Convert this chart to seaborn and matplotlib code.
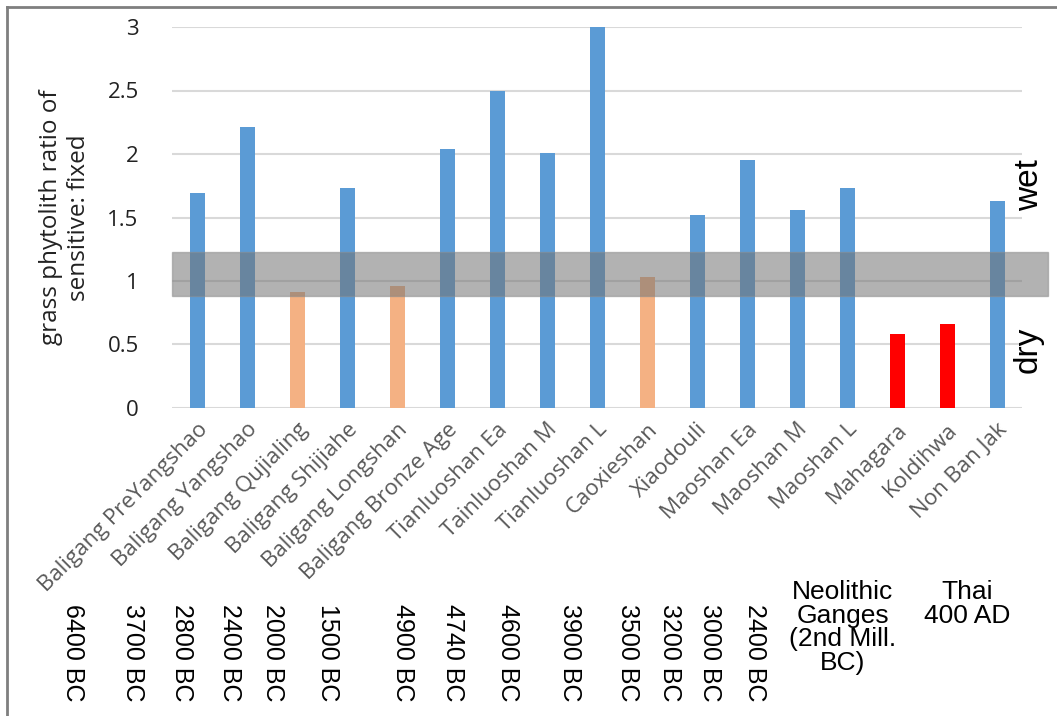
import matplotlib
matplotlib.use("Agg")
import matplotlib.pyplot as plt
import pandas as pd
import seaborn as sns
from matplotlib.lines import Line2D

# sites and phytolith ratios
sites = ["Baligang PreYangshao", "Baligang Yangshao", "Baligang Qujialing",
         "Baligang Shijiahe", "Baligang Longshan", "Baligang Bronze Age",
         "Tianluoshan Ea", "Tainluoshan M", "Tianluoshan L", "Caoxieshan",
         "Xiaodouli", "Maoshan Ea", "Maoshan M", "Maoshan L", "Mahagara",
         "Koldihwa", "Non Ban Jak"]
ratios = [1.69, 2.21, 0.91, 1.73, 0.96, 2.04, 2.50, 2.01, 3.00, 1.03,
          1.52, 1.95, 1.56, 1.73, 0.58, 0.66, 1.63]
groups = ["china", "china", "china_low", "china", "china_low", "china",
          "china", "china", "china", "china_low", "china", "china", "china",
          "china", "india", "india", "thai"]
dates = ["6400 BC", "3700 BC", "2800 BC", "2400 BC", "2000 BC", "1500 BC",
         "4900 BC", "4740 BC", "4600 BC", "3900 BC", "3500 BC", "3200 BC",
         "3000 BC", "2400 BC"]
group_notes = ["Neolithic\nGanges\n(2nd Mill.\nBC)", "Thai\n400 AD"]
band = (0.88, 1.23)

palette = {"china": "#5B9BD5", "china_low": "#F4B183",
           "india": "#FF0000", "thai": "#5B9BD5"}

df = pd.DataFrame({"site": sites, "ratio": ratios, "group": groups})

W, H = 1057, 716
fig = plt.figure(figsize=(W / 100, H / 100), dpi=100)
ax = fig.add_axes([172 / W, 1 - 408 / H, (1022 - 172) / W, (408 - 27) / H])

sns.barplot(data=df, x="site", y="ratio", hue="group", palette=palette,
            dodge=False, width=0.3, legend=False, ax=ax, saturation=1,
            zorder=2)

ax.set_ylim(0, 3)
ax.set_xlim(-0.5, len(sites) - 0.5)
ax.set_yticks([0, 0.5, 1, 1.5, 2, 2.5, 3])
ax.set_yticklabels(["0", "0.5", "1", "1.5", "2", "2.5", "3"],
                   fontsize=16, family="Open Sans", color="#222222")
ax.yaxis.grid(True, color="#D9D9D9", linewidth=1.5, zorder=0)
ax.set_axisbelow(True)
for s in ax.spines.values():
    s.set_visible(False)
ax.tick_params(axis="y", length=0, pad=24)
ax.tick_params(axis="x", length=0, pad=8)
ax.set_xlabel("")
ax.set_ylabel("grass phytolith ratio of\nsensitive: fixed", fontsize=17.5,
              family="Open Sans", color="#222222", labelpad=12,
              linespacing=1.2)
ax.set_xticks(range(len(sites)))
ax.set_xticklabels(sites, rotation=45, ha="right", rotation_mode="anchor",
                   fontsize=16, family="Open Sans", color="#595959")

# grey wet/dry threshold band, spilling past the right edge
ax.axhspan(band[0], band[1], xmin=0.0, xmax=1.03, facecolor="#737373",
           alpha=0.55, edgecolor="#8C8C8C", linewidth=1, zorder=3,
           clip_on=False)

fig.text(1030 / W, 1 - 185 / H, "wet", rotation=90, ha="center",
         va="center", fontsize=24, family="Liberation Sans")
fig.text(1028 / W, 1 - 350 / H, "dry", rotation=90, ha="center",
         va="center", fontsize=24, family="Liberation Sans")

# age labels under the site names
date_x = [73, 133, 182, 230, 273, 328, 403, 453, 508, 570, 628, 670, 710,
          755]
for d, x in zip(dates, date_x):
    fig.text(x / W, 1 - 604 / H, d, rotation=270, ha="center", va="top",
             fontsize=18, family="Liberation Sans")
for note, x in zip(group_notes, [843, 967]):
    fig.text(x / W, 1 - 580 / H, note, ha="center", va="top",
             fontsize=19, family="Liberation Sans", linespacing=0.98)

# frame around the figure (left and top edges)
fig.add_artist(Line2D([7 / W, 7 / W], [0, 1 - 7 / H], transform=fig.transFigure,
                      color="#7F7F7F", linewidth=2))
fig.add_artist(Line2D([7 / W, 1], [1 - 7 / H, 1 - 7 / H],
                      transform=fig.transFigure, color="#7F7F7F",
                      linewidth=2))

fig.savefig("out.png", dpi=100)
